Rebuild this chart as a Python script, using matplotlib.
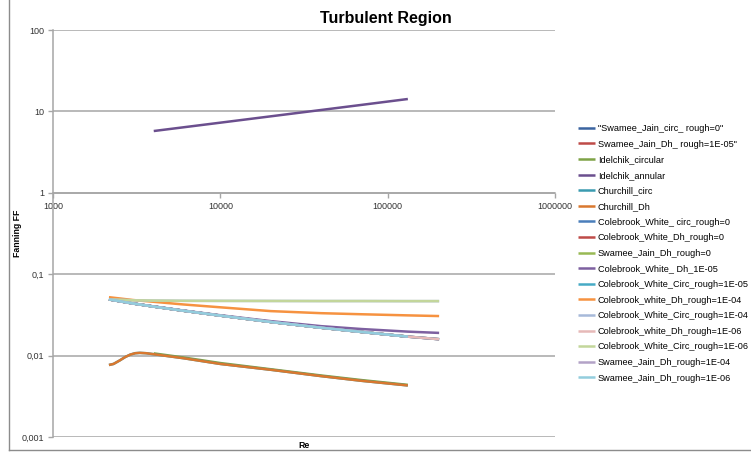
import matplotlib
matplotlib.use("Agg")
import matplotlib.pyplot as plt
from matplotlib.lines import Line2D
from matplotlib.ticker import FixedLocator, FixedFormatter, NullLocator

plt.rcParams['font.family'] = ['Liberation Sans', 'DejaVu Sans']

# Reynolds number grids
re_upper = [2160, 3000, 4000, 6000, 10000, 20000, 40000, 70000, 132000, 203000]
re_lower = [2160, 2300, 2500, 2700, 2900, 3100, 3300, 3600, 4000, 6000,
            10000, 20000, 40000, 70000, 132000]
re_idel = [4000, 6000, 10000, 20000, 40000, 70000, 132000]
re_annular = [4000, 10000, 30000, 70000, 132000]

# Friction factor values
ff_smooth = [0.0490, 0.0437, 0.0400, 0.0356, 0.0310, 0.0259, 0.0220, 0.0195, 0.0171, 0.0159]
ff_dh_1e5 = [0.0490, 0.0438, 0.0402, 0.0358, 0.0313, 0.0265, 0.0230, 0.0212, 0.0197, 0.0190]
ff_dh_1e4 = [0.0522, 0.0482, 0.0458, 0.0425, 0.0392, 0.0352, 0.0332, 0.0322, 0.0312, 0.0306]
ff_circ_flat = [0.0490, 0.0478, 0.0474, 0.0471, 0.0470, 0.0469, 0.0468, 0.0468, 0.0467, 0.0467]
ff_churchill = [0.00767, 0.0079, 0.0087, 0.0096, 0.0103, 0.0107, 0.0108, 0.0107, 0.0104,
                0.0093, 0.0079, 0.0067, 0.0056, 0.0049, 0.0043]
ff_idel_circ = [0.01065, 0.0095, 0.0081, 0.0068, 0.0057, 0.0050, 0.00437]
ff_idel_annular = [5.74, 7.27, 9.66, 12.03, 14.2]

# (label, Re, FF, colour)
series = [
    ('"Swamee_Jain_circ_ rough=0"', re_upper[:9], ff_smooth[:9], '#3B64A0'),
    ('Swamee_Jain_Dh_ rough=1E-05"', re_upper[:9], ff_smooth[:9], '#BE4B48'),
    ('Idelchik_circular', re_idel, ff_idel_circ, '#7EA346'),
    ('Idelchik_annular', re_annular, ff_idel_annular, '#6B4F8E'),
    ('Churchill_circ', re_lower, ff_churchill, '#3A9BB0'),
    ('Churchill_Dh', re_lower, ff_churchill, '#D9782F'),
    ('Colebrook_White_ circ_rough=0', re_upper, ff_smooth, '#4A7EBB'),
    ('Colebrook_White_Dh_rough=0', re_upper, ff_smooth, '#BE4B48'),
    ('Swamee_Jain_Dh_rough=0', re_upper[:9], ff_smooth[:9], '#98B954'),
    ('Colebrook_White_ Dh_1E-05', re_upper, ff_dh_1e5, '#7D60A0'),
    ('Colebrook_White_Circ_rough=1E-05', re_upper, ff_smooth, '#46AAC5'),
    ('Colebrook_white_Dh_rough=1E-04', re_upper, ff_dh_1e4, '#F69240'),
    ('Colebrook_White_Circ_rough=1E-04', re_upper, ff_circ_flat, '#A7B9D9'),
    ('Colebrook_white_Dh_rough=1E-06', re_upper, ff_smooth, '#E6B9B8'),
    ('Colebrook_White_Circ_rough=1E-06', re_upper, ff_circ_flat, '#C3D69B'),
    ('Swamee_Jain_Dh_rough=1E-04', re_upper[:9], ff_smooth[:9], '#B3A2C7'),
    ('Swamee_Jain_Dh_rough=1E-06', re_upper[:9], ff_smooth[:9], '#93CDDD'),
]

x_ticks = [1000, 10000, 100000, 1000000]
x_labels = ['1000', '10000', '100000', '1000000']
y_ticks = [0.001, 0.01, 0.1, 1, 10, 100]
y_labels = ['0,001', '0,01', '0,1', '1', '10', '100']

W, H = 751, 454
fig = plt.figure(figsize=(W / 100, H / 100), dpi=100)
ax = fig.add_axes([53 / W, 1 - 437 / H, (555 - 53) / W, (437 - 30) / H])

handles = []
for label, re, ff, color in series:
    h, = ax.plot(re, ff, color=color, lw=1.8, solid_capstyle='butt', label=label)
    handles.append(h)

ax.set_xscale('log')
ax.set_yscale('log')
ax.set_xlim(1000, 1000000)
ax.set_ylim(0.001, 100)

grid_col = '#A6A6A6'
ax.xaxis.set_major_locator(FixedLocator(x_ticks))
ax.xaxis.set_major_formatter(FixedFormatter(x_labels))
ax.xaxis.set_minor_locator(NullLocator())
ax.yaxis.set_major_locator(FixedLocator(y_ticks))
ax.yaxis.set_major_formatter(FixedFormatter(y_labels))
ax.yaxis.set_minor_locator(NullLocator())
ax.grid(axis='y', color=grid_col, lw=1.1)
ax.set_axisbelow(True)

for s in ('top', 'right'):
    ax.spines[s].set_visible(False)
ax.spines['bottom'].set_position(('data', 1))
ax.spines['bottom'].set_color(grid_col)
ax.spines['left'].set_color(grid_col)
ax.spines['bottom'].set_linewidth(1.1)
ax.spines['left'].set_linewidth(1.1)
ax.tick_params(axis='both', direction='out', length=3.5, width=1, color=grid_col,
               labelsize=6.5, labelcolor='#333333', pad=3)

# Titles and axis labels
fig.text(386 / W, 1 - 18 / H, 'Turbulent Region', ha='center', va='center',
         fontsize=11.5, fontweight='bold')
fig.text(304 / W, 1 - 445 / H, 'Re', ha='center', va='center',
         fontsize=6.3, fontweight='bold')
fig.text(18 / W, 1 - 233 / H, 'Fanning FF', ha='center', va='center',
         rotation=90, fontsize=6.3, fontweight='bold')

# Legend on the right
fig.legend(handles=handles, loc='upper left', bbox_to_anchor=(578 / W, 1 - 124 / H),
           frameon=False, fontsize=6.6, handlelength=1.8, handletextpad=0.35,
           labelspacing=0.72, borderaxespad=0, borderpad=0)

# Chart area border
fig.add_artist(Line2D([9 / W, 9 / W], [1 - 450 / H, 1], transform=fig.transFigure,
                      color='#8C8C8C', lw=1))
fig.add_artist(Line2D([9 / W, 1], [1 - 450 / H, 1 - 450 / H], transform=fig.transFigure,
                      color='#8C8C8C', lw=1))

fig.savefig('out.png', dpi=100)
